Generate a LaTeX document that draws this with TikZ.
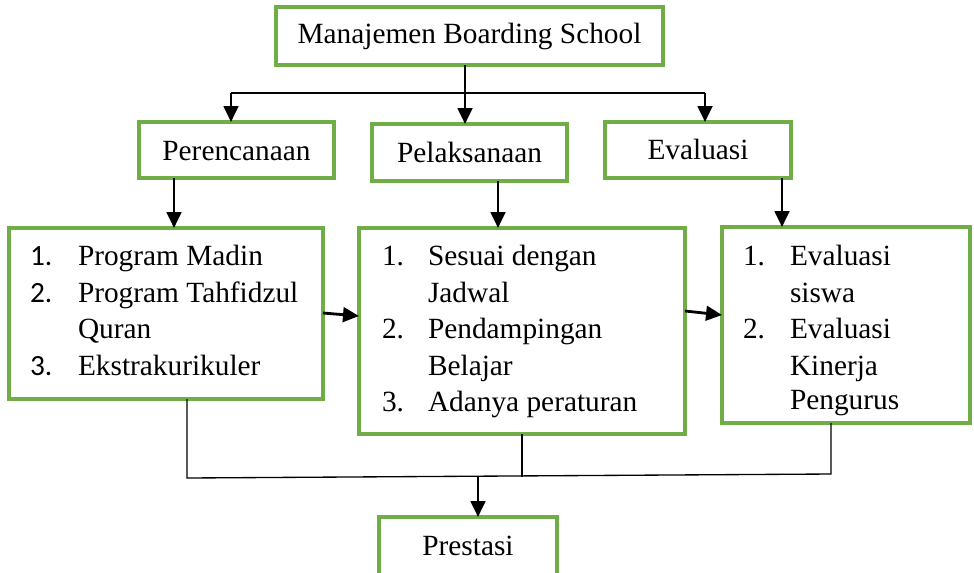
\documentclass[tikz,border=0pt]{standalone}
\usepackage{fontspec}
\setmainfont{Liberation Serif}
\newfontfamily\numfont{Carlito}
\usetikzlibrary{arrows.meta,fit}
\definecolor{boxgreen}{HTML}{70AD47}
\begin{document}
\begin{tikzpicture}[x=0.75pt,y=-0.75pt,
  box/.style={draw=boxgreen, line width=2.4pt, inner sep=0pt, outer sep=0pt},
  txt/.style={anchor=base west, inner sep=0pt, outer sep=0pt, font=\fontsize{22}{26}\selectfont},
  ctxt/.style={txt, anchor=base},
  arr/.style={draw=black, line width=2.1pt, -{Triangle[length=12pt,width=11pt]}},
  midline/.style={draw=black, line width=1.5pt},
  thinline/.style={draw=black, line width=1pt}]
\useasboundingbox (0,0) rectangle (974,572);
\clip (0,0) rectangle (974,572);

% boxes
\node[box, fit={(276,7)(663,65)}] (top) {};
\node[ctxt] (toplbl) at (469.5,43) {Manajemen Boarding School};
\node[box, fit={(139,122)(334,178)}] (pere) {};
\node[ctxt] (perelbl) at (236.5,160) {Perencanaan};
\node[box, fit={(372,124)(567,181)}] (pel) {};
\node[ctxt] (pellbl) at (469.5,162) {Pelaksanaan};
\node[box, fit={(605,122)(791,178)}] (eval) {};
\node[ctxt] (evallbl) at (698,159) {Evaluasi};
\node[box, fit={(9,228)(323,399)}] (b1) {};
\node[box, fit={(359,228)(685,434)}] (b2) {};
\node[box, fit={(722,227)(970,423)}] (b3) {};
\node[box, fit={(379,517)(557,600)}] (pres) {};
\node[ctxt] (preslbl) at (468,555) {Prestasi};

% list 1
\node[txt] (n11) at (30,265) {\numfont 1.};
\node[txt] (t11) at (78,265) {Program Madin};
\node[txt] (n12) at (30,302) {\numfont 2.};
\node[txt] (t12) at (78,302) {Program Tahfidzul};
\node[txt] (t12b) at (78,338) {Quran};
\node[txt] (n13) at (30,375) {\numfont 3.};
\node[txt] (t13) at (78,375) {Ekstrakurikuler};

% list 2
\node[txt] (n21) at (382,265) {1.};
\node[txt] (t21) at (428,265) {Sesuai dengan};
\node[txt] (t21b) at (428,302) {Jadwal};
\node[txt] (n22) at (382,338) {2.};
\node[txt] (t22) at (428,338) {Pendampingan};
\node[txt] (t22b) at (428,375) {Belajar};
\node[txt] (n23) at (382,411) {3.};
\node[txt] (t23) at (428,411) {Adanya peraturan};

% list 3
\node[txt] (n31) at (743,265) {1.};
\node[txt] (t31) at (790,265) {Evaluasi};
\node[txt] (t31b) at (790,302) {siswa};
\node[txt] (n32) at (743,338) {2.};
\node[txt] (t32) at (790,338) {Evaluasi};
\node[txt] (t32b) at (790,375) {Kinerja};
\node[txt] (t32c) at (790,409) {Pengurus};

% top connectors
\coordinate (hl) at (231,93);
\coordinate (hr) at (705,93);
\coordinate (hm) at (465,93);
\draw[midline] (hl) -- (hr);
\draw[arr] (hl) -- (pere.north -| hl);
\draw[arr] (hr) -- (eval.north -| hr);
\draw[arr] (top.south -| hm) -- (pel.north -| hm);

% down arrows
\coordinate (d1) at (174,200);
\coordinate (d2) at (498,200);
\coordinate (d3) at (782,200);
\draw[arr] (pere.south -| d1) -- (b1.north -| d1);
\draw[arr] (pel.south -| d2) -- (b2.north -| d2);
\draw[arr] (eval.south -| d3) -- (b3.north -| d3);

% side arrows
\coordinate (s1a) at (0,313);
\coordinate (s1b) at (0,316);
\coordinate (s2a) at (0,311);
\coordinate (s2b) at (0,315);
\draw[arr] (b1.east |- s1a) -- (b2.west |- s1b);
\draw[arr] (b2.east |- s2a) -- (b3.west |- s2b);

% bottom collector
\coordinate (c1) at (187,478);
\coordinate (c2) at (522,477);
\coordinate (c3) at (831,474);
\coordinate (cm) at (478,477);
\draw[thinline] (b1.south -| c1) -- (c1) -- (c3) -- (b3.south -| c3);
\draw[thinline] (b2.south -| c2) -- (c2);
\draw[arr] (cm) -- (pres.north -| cm);
\end{tikzpicture}
\end{document}
